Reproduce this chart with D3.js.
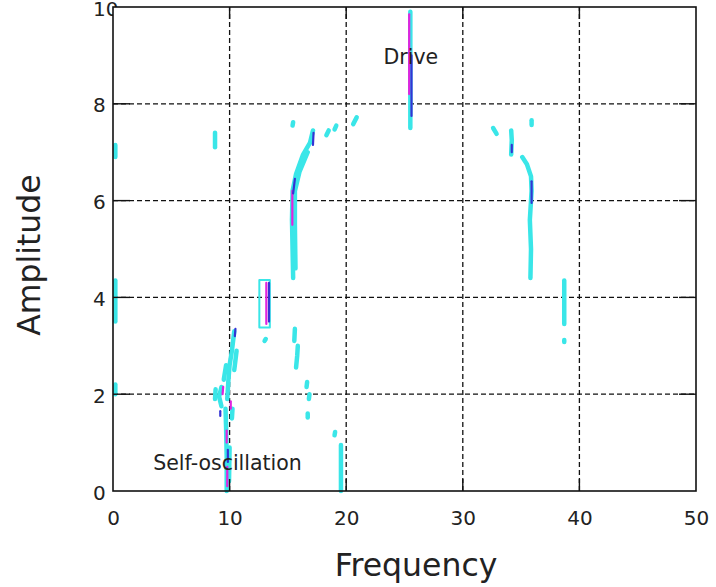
<!DOCTYPE html>
<html>
<head>
<meta charset="utf-8">
<script src="https://cdn.jsdelivr.net/npm/d3@7"></script>
<style>
	body { margin: 0; background: #fff; }
	svg { display: block; font-family: "DejaVu Sans", sans-serif; }
</style>
</head>
<body>
<div id="chart"></div>
<script>
const xTicks = [0, 10, 20, 30, 40, 50];
const yTicks = [0, 2, 4, 6, 8, 10];

// ridges of the lowest contour level (cyan), [frequency, amplitude]
const cyanRidges = [
	[[25.5, 9.9], [25.5, 8.6], [25.5, 7.5]],
	[[9.75, 0], [9.75, 0.7], [9.7, 1.3], [9.65, 1.7]],
	[[9.3, 1.75], [9.1, 1.95], [9.3, 2.15]],
	[[8.75, 1.9], [8.8, 2.1]],
	[[9.8, 1.9], [9.9, 2.3], [10.0, 2.6], [10.2, 2.9], [10.4, 3.3]],
	[[9.5, 2.3], [9.7, 2.6]],
	[[10.2, 1.5], [10.25, 1.7]],
	[[10.4, 2.5], [10.6, 2.9]],
	[[9.95, 0.2], [10.0, 0.9]],
	[[15.45, 4.4], [15.4, 5.0], [15.35, 5.6], [15.4, 6.2], [15.7, 6.55], [16.3, 6.95], [16.9, 7.2], [17.15, 7.45]],
	[[15.65, 4.6], [15.6, 5.5], [15.6, 6.2], [16.0, 6.6], [16.7, 7.0]],
	[[18.3, 7.35], [18.5, 7.45]],
	[[19.0, 7.47], [19.15, 7.55]],
	[[20.6, 7.58], [20.9, 7.72]],
	[[15.4, 7.55], [15.45, 7.62]],
	[[35.8, 4.4], [35.85, 5.0], [35.75, 5.6], [35.9, 6.2], [35.85, 6.5], [35.5, 6.75], [35.1, 6.9]],
	[[34.15, 6.95], [34.2, 7.25], [34.15, 7.45]],
	[[32.6, 7.5], [32.9, 7.38]],
	[[35.9, 7.56], [35.9, 7.66]],
	[[38.7, 3.45], [38.7, 4.35]],
	[[38.7, 3.08], [38.7, 3.12]],
	[[13.0, 3.1], [13.1, 3.14]],
	[[0.2, 3.5], [0.2, 4.35]],
	[[0.2, 6.9], [0.2, 7.15]],
	[[0.2, 2.0], [0.2, 2.2]],
	[[8.75, 7.1], [8.75, 7.4]],
	[[15.55, 3.1], [15.6, 3.35]],
	[[15.7, 2.55], [15.8, 2.8], [15.85, 3.0]],
	[[16.6, 2.15], [16.65, 2.25]],
	[[16.8, 1.9], [16.85, 2.0]],
	[[16.7, 1.52], [16.7, 1.6]],
	[[19.0, 1.15], [19.05, 1.22]],
	[[19.55, 0], [19.55, 0.95]]
];

// thin closed cyan outline
const cyanOutlines = [
	[[12.55, 3.38], [12.55, 4.36], [13.45, 4.36], [13.45, 3.38], [12.55, 3.38]]
];

// middle level (magenta)
const magentaRidges = [
	[[25.4, 9.85], [25.4, 8.2]],
	[[13.15, 3.45], [13.15, 4.3]],
	[[15.38, 5.5], [15.38, 6.2]],
	[[9.8, 0.1], [9.8, 0.5]],
	[[9.75, 1.0], [9.75, 1.25]],
	[[9.4, 2.0], [9.45, 2.15]],
	[[10.1, 1.7], [10.1, 1.85]]
];

// top level (blue)
const blueRidges = [
	[[25.6, 9.0], [25.6, 7.75]],
	[[13.38, 3.5], [13.38, 4.3]],
	[[15.45, 6.15], [15.6, 6.45]],
	[[17.15, 7.15], [17.2, 7.4]],
	[[34.2, 7.0], [34.2, 7.15]],
	[[35.9, 5.95], [35.9, 6.4]],
	[[10.45, 3.2], [10.5, 3.35]],
	[[9.2, 1.55], [9.2, 1.65]],
	[[9.85, 0.6], [9.85, 0.85]]
];

const notes = [
	{ text: "Drive", f: 23.2, a: 8.82 },
	{ text: "Self-oscillation", f: 3.45, a: 0.43 }
];

const width = 716, height = 587;
const margin = { top: 7, right: 20, bottom: 96, left: 113 };

let scale = {
	x: d3.scaleLinear().domain([0, 50]).range([margin.left, width - margin.right]),
	y: d3.scaleLinear().domain([0, 10]).range([height - margin.bottom, margin.top])
};

let line = d3.line()
	.x(d => scale.x(d[0]))
	.y(d => scale.y(d[1]));

let svg = d3.select("#chart").append("svg")
	.attr("width", width)
	.attr("height", height);

// y labels sit left-aligned, the plot background hides the overflow of "10"
svg.append("g")
	.attr("class", "axis y")
	.attr("transform", `translate(${margin.left}, 0)`)
	.call(d3.axisLeft(scale.y).tickValues(yTicks).tickSize(0))
	.call(g => g.select(".domain").remove())
	.call(g => g.selectAll("text")
		.attr("x", -20)
		.attr("dy", "0.4em")
		.attr("text-anchor", "start")
		.style("font-size", "20px")
		.style("font-family", "DejaVu Sans")
		.attr("fill", "#222"));

svg.append("rect")
	.attr("x", margin.left)
	.attr("y", margin.top)
	.attr("width", scale.x(50) - margin.left)
	.attr("height", scale.y(0) - margin.top)
	.attr("fill", "#fff");

svg.append("g")
	.attr("class", "axis x")
	.attr("transform", `translate(0, ${scale.y(0)})`)
	.call(d3.axisBottom(scale.x).tickValues(xTicks).tickSize(0).tickPadding(20))
	.call(g => g.select(".domain").remove())
	.call(g => g.selectAll("text")
		.style("font-size", "20px")
		.style("font-family", "DejaVu Sans")
		.attr("fill", "#222"));

// dashed grid
let grid = svg.append("g").attr("class", "grid")
	.attr("stroke", "#111")
	.attr("stroke-width", 1.3)
	.attr("stroke-dasharray", "5,3");

grid.selectAll("line.gx")
	.data(xTicks.slice(1, -1))
	.enter()
	.append("line")
		.attr("class", "gx")
		.attr("x1", d => scale.x(d)).attr("x2", d => scale.x(d))
		.attr("y1", scale.y(0)).attr("y2", scale.y(10));

grid.selectAll("line.gy")
	.data(yTicks.slice(1, -1))
	.enter()
	.append("line")
		.attr("class", "gy")
		.attr("y1", d => scale.y(d)).attr("y2", d => scale.y(d))
		.attr("x1", scale.x(0)).attr("x2", scale.x(50));

// contours
let chart = svg.append("g").attr("class", "chart")
	.attr("fill", "none")
	.attr("stroke-linecap", "round")
	.attr("stroke-linejoin", "round");

function drawLevel(data, color, w) {
	chart.append("g")
		.selectAll("path")
		.data(data)
		.enter()
		.append("path")
			.attr("d", d => line(d))
			.style("stroke", color)
			.style("stroke-width", w);
}

drawLevel(cyanRidges, "#3ae6e8", 4.5);
drawLevel(cyanOutlines, "#3ae6e8", 2);
drawLevel(magentaRidges, "#e024de", 2.2);
drawLevel(blueRidges, "#3434d4", 2.2);

// inward ticks on all four sides
let ticks = svg.append("g").attr("stroke", "#111").attr("stroke-width", 1.4);
xTicks.slice(1, -1).forEach(t => {
	ticks.append("line").attr("x1", scale.x(t)).attr("x2", scale.x(t)).attr("y1", scale.y(0)).attr("y2", scale.y(0) - 12);
	ticks.append("line").attr("x1", scale.x(t)).attr("x2", scale.x(t)).attr("y1", scale.y(10)).attr("y2", scale.y(10) + 12);
});
yTicks.slice(1, -1).forEach(t => {
	ticks.append("line").attr("y1", scale.y(t)).attr("y2", scale.y(t)).attr("x1", scale.x(0)).attr("x2", scale.x(0) + 17);
	ticks.append("line").attr("y1", scale.y(t)).attr("y2", scale.y(t)).attr("x1", scale.x(50)).attr("x2", scale.x(50) - 17);
});

svg.append("rect")
	.attr("x", scale.x(0))
	.attr("y", scale.y(10))
	.attr("width", scale.x(50) - scale.x(0))
	.attr("height", scale.y(0) - scale.y(10))
	.attr("fill", "none")
	.attr("stroke", "#111")
	.attr("stroke-width", 1.6);

svg.append("g")
	.selectAll("text")
	.data(notes)
	.enter()
	.append("text")
		.attr("x", d => scale.x(d.f))
		.attr("y", d => scale.y(d.a))
		.attr("fill", "#222")
		.style("font-size", "20.5px")
		.text(d => d.text);

svg.append("text")
	.attr("transform", `translate(40, 255) rotate(-90)`)
	.attr("text-anchor", "middle")
	.attr("fill", "#222")
	.style("font-size", "31.5px")
	.text("Amplitude");

svg.append("text")
	.attr("x", 416)
	.attr("y", 576)
	.attr("text-anchor", "middle")
	.attr("fill", "#222")
	.style("font-size", "31.5px")
	.text("Frequency");
</script>
</body>
</html>
